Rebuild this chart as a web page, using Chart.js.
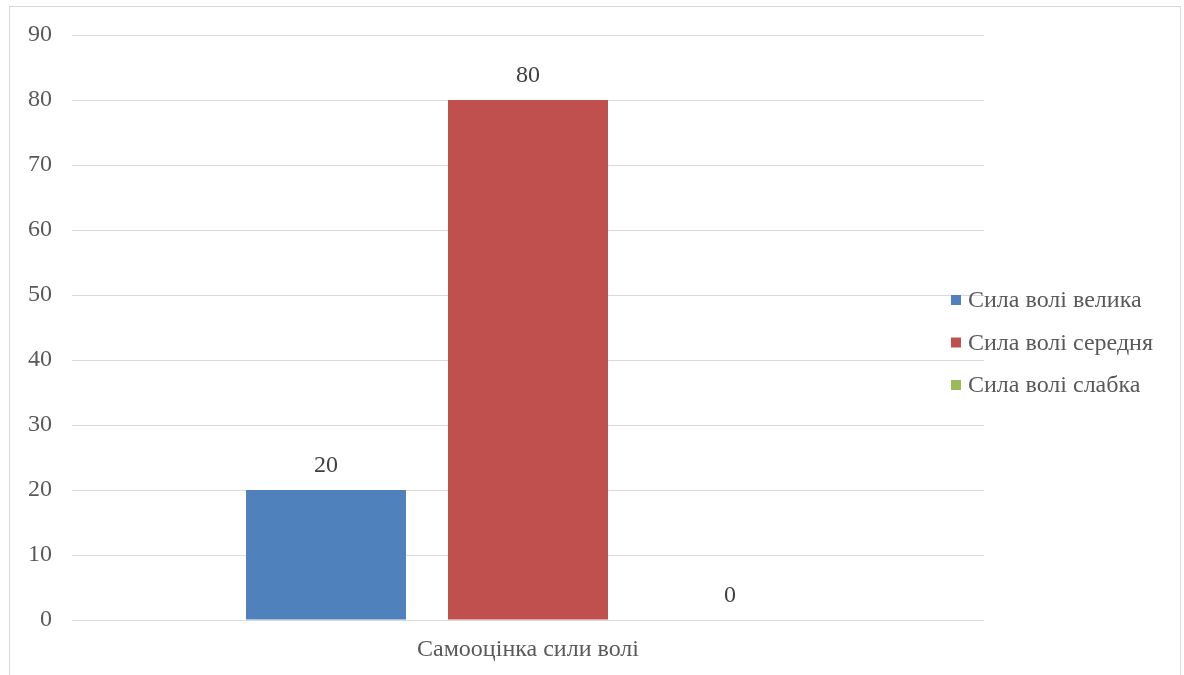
<!DOCTYPE html>
<html lang="uk">
<head>
  <meta charset="UTF-8" />
  <title>Самооцінка сили волі</title>
  <script src="https://cdn.jsdelivr.net/npm/chart.js"></script>
  <style>
    * { margin: 0; padding: 0; box-sizing: border-box; }
    body { background: #fff; width: 1184px; height: 675px; overflow: hidden; position: relative; }
    .frame {
      position: absolute; left: 9px; top: 6px; width: 1172px; height: 700px;
      border: 1px solid #d9d9d9;
    }
    #chart { position: absolute; left: 0; top: 0; }
  </style>
</head>
<body>
  <div class="frame"></div>
  <canvas id="chart" width="1184" height="675"></canvas>

  <script>
    const categories = ['Самооцінка сили волі'];
    const seriesNames = ['Сила волі велика', 'Сила волі середня', 'Сила волі слабка'];
    const seriesValues = [[20], [80], [0]];
    const seriesColors = ['#4f81bd', '#c0504d', '#9bbb59'];
    const yTicks = [0, 10, 20, 30, 40, 50, 60, 70, 80, 90];

    const FONT = "'Liberation Serif', 'Times New Roman', serif";
    const FONT_SIZE = 24;

    // value labels above the bars
    const valueLabels = {
      id: 'valueLabels',
      afterDatasetsDraw(chart) {
        const c = chart.ctx;
        c.save();
        c.font = FONT_SIZE + 'px ' + FONT;
        c.fillStyle = '#404040';
        c.textAlign = 'center';
        c.textBaseline = 'middle';
        chart.data.datasets.forEach((ds, i) => {
          chart.getDatasetMeta(i).data.forEach((bar, j) => {
            c.fillText(String(ds.data[j]), bar.x, bar.y - 24);
          });
        });
        c.restore();
      }
    };

    // legend drawn over the right side of the plot
    const sideLegend = {
      id: 'sideLegend',
      afterDraw(chart) {
        const c = chart.ctx;
        c.save();
        c.font = FONT_SIZE + 'px ' + FONT;
        c.textBaseline = 'middle';
        c.textAlign = 'left';
        chart.data.datasets.forEach((ds, i) => {
          const y = 300 + i * 42.5;
          c.fillStyle = ds.backgroundColor;
          c.fillRect(951, y - 5, 10, 10);
          c.fillStyle = '#595959';
          c.fillText(ds.label, 968, y + 1);
        });
        c.restore();
      }
    };

    new Chart(document.getElementById('chart'), {
      type: 'bar',
      data: {
        labels: categories,
        datasets: seriesNames.map((name, i) => ({
          label: name,
          data: seriesValues[i],
          backgroundColor: seriesColors[i],
          borderWidth: 0,
          categoryPercentage: 0.6645,
          barPercentage: 0.792
        }))
      },
      options: {
        responsive: false,
        animation: false,
        devicePixelRatio: 1,
        layout: { padding: { top: 35, right: 200, left: 0, bottom: 0 } },
        plugins: { legend: { display: false }, tooltip: { enabled: false } },
        scales: {
          x: {
            grid: { display: false, drawTicks: false },
            border: { display: false },
            ticks: { color: '#595959', font: { family: FONT, size: FONT_SIZE }, padding: 15 },
            afterFit(s) { s.height = 55; }
          },
          y: {
            min: 0,
            max: 90,
            afterBuildTicks(s) { s.ticks = yTicks.map(v => ({ value: v })); },
            grid: { color: '#d9d9d9', lineWidth: 1, drawTicks: false },
            border: { display: false },
            ticks: { color: '#595959', font: { family: FONT, size: FONT_SIZE }, padding: 20 },
            afterFit(s) { s.width = 72; }
          }
        }
      },
      plugins: [valueLabels, sideLegend]
    });
  </script>
</body>
</html>
